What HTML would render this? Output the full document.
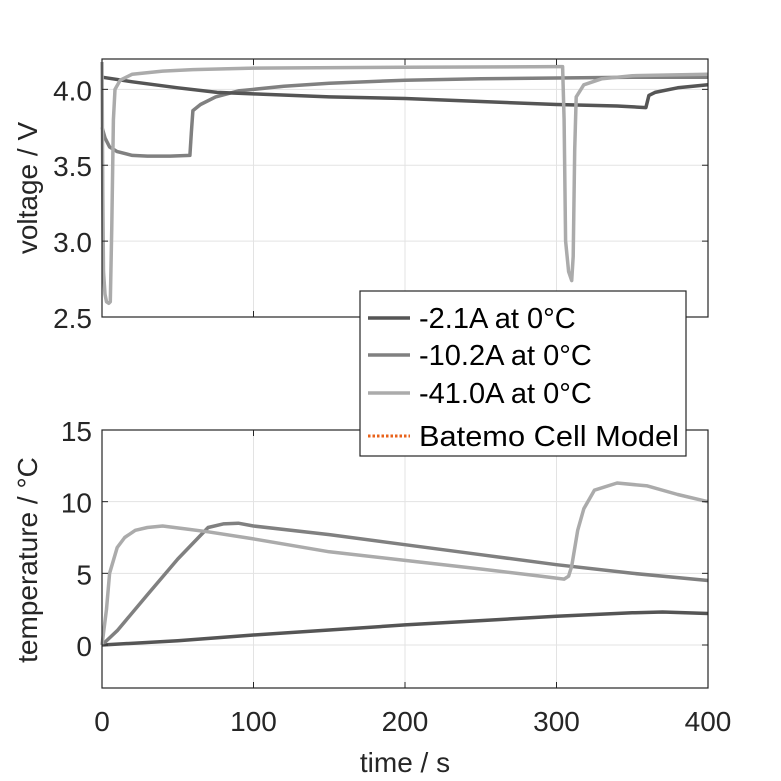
<!DOCTYPE html>
<html><head><meta charset="utf-8"><style>
html,body{margin:0;padding:0;background:#fff;}
svg{display:block;font-family:"Liberation Sans",Arial,sans-serif;}
</style></head><body>
<svg id="chart" width="781" height="781" viewBox="0 0 781 781" xmlns="http://www.w3.org/2000/svg"></svg>
<script>
// ---- data ----
const timeTicks=[0,100,200,300,400];
const voltTicks=[2.5,3.0,3.5,4.0];
const voltTickLabels=["2.5","3.0","3.5","4.0"];
const tempTicks=[0,5,10,15];
const tempTickLabels=["0","5","10","15"];
const seriesNames=["-2.1A at 0°C","-10.2A at 0°C","-41.0A at 0°C"];
// voltage series [t, V]
const v21t=[0,20,50,76,100,150,200,250,300,340,359,361,365,380,400];
const v21v=[4.08,4.05,4.01,3.98,3.97,3.95,3.94,3.92,3.90,3.89,3.88,3.96,3.98,4.01,4.03];
const v102t=[0,2,5,10,20,30,45,58,59,60,65,75,90,120,150,200,250,300,350,400];
const v102v=[3.75,3.68,3.62,3.59,3.565,3.56,3.56,3.565,3.72,3.86,3.90,3.95,3.99,4.02,4.04,4.06,4.07,4.075,4.08,4.08];
const v410t=[0,0.5,1,2,3,4.5,5.5,6.5,7.5,8.6,12,20,40,60,100,200,300,304,305,306,308,310,311,312,313,318,330,350,400];
const v410v=[4.18,3.3,2.8,2.65,2.6,2.59,2.6,3.1,3.8,4.0,4.06,4.1,4.12,4.13,4.14,4.145,4.15,4.15,3.8,3.0,2.8,2.74,2.9,3.6,3.95,4.03,4.07,4.09,4.1];
// temperature series [t, °C]
const t21t=[0,50,100,150,200,250,300,350,370,400];
const t21v=[0,0.3,0.7,1.05,1.4,1.7,2.0,2.25,2.3,2.2];
const t102t=[0,10,30,50,70,80,90,100,150,200,250,300,350,400];
const t102v=[0,1.0,3.5,6.0,8.2,8.45,8.5,8.3,7.7,7.0,6.3,5.6,5.0,4.5];
const t410t=[0,3,5,10,15,22,30,40,55,70,100,150,200,250,290,305,308,310,314,318,325,340,360,380,400];
const t410v=[0,2.5,5,6.8,7.5,8.0,8.2,8.3,8.1,7.9,7.4,6.5,5.9,5.3,4.8,4.6,4.8,5.5,8.0,9.5,10.8,11.3,11.1,10.5,10.0];

// ---- layout ----
const svg=document.getElementById('chart');
const NS='http://www.w3.org/2000/svg';
const X0=102,X1=708;
const xS=t=>X0+(t-0)/(400-0)*(X1-X0);
const vTop=59,vBot=317,vMin=2.5,vMax=4.2;
const yV=v=>vBot-(v-vMin)/(vMax-vMin)*(vBot-vTop);
const tTop=430,tBot=688,tMin=-3,tMax=15;
const yT=v=>tBot-(v-tMin)/(tMax-tMin)*(tBot-tTop);
const colors=["#555555","#808080","#ababab"];
const FS=28;

function el(tag,attrs,parent){const e=document.createElementNS(NS,tag);for(const k in attrs)e.setAttribute(k,attrs[k]);(parent||svg).appendChild(e);return e;}

function axes(name,top,bot,yTicks,yFn){
  const g=el('g',{});
  
  
  for(const t of timeTicks){const x=xS(t);
    const gl=el('line',{x1:x,x2:x,y1:top,y2:bot,stroke:'#e3e3e3','stroke-width':1},g);
    }
  for(const v of yTicks){const y=yFn(v);
    const gl=el('line',{x1:X0,x2:X1,y1:y,y2:y,stroke:'#e3e3e3','stroke-width':1},g);
    }
  return g;
}
function frame(g,top,bot,yTicks,yLabels,yFn,showX){
  const r=el('rect',{x:X0,y:top,width:X1-X0,height:bot-top,fill:'none',stroke:'#262626','stroke-width':1.2},g);
  
  yTicks.forEach((v,i)=>{const y=yFn(v);
    el('line',{x1:X0,x2:X0+6,y1:y,y2:y,stroke:'#262626'},g);
    el('line',{x1:X1-6,x2:X1,y1:y,y2:y,stroke:'#262626'},g);
    const tx=el('text',{x:X0-10,y:y+11,'text-anchor':'end','font-size':FS,fill:'#262626'},g);
    tx.textContent=yLabels[i];
    });
  timeTicks.forEach(t=>{const x=xS(t);
    el('line',{x1:x,x2:x,y1:bot,y2:bot-6,stroke:'#262626'},g);
    el('line',{x1:x,x2:x,y1:top,y2:top+6,stroke:'#262626'},g);
    if(showX){const tx=el('text',{x:x,y:bot+43,'text-anchor':'middle','font-size':FS,fill:'#262626'},g);
      tx.textContent=String(t);
      }});
}
function line(g,ts,vs,yFn,color,name){
  const d=ts.map((t,i)=>(i?'L':'M')+xS(t).toFixed(1)+','+yFn(vs[i]).toFixed(1)).join('');
  const p=el('path',{d:d,fill:'none',stroke:color,'stroke-width':3.5,'stroke-linejoin':'round'},g);
  
  
}
// voltage
const gv=axes('voltage-axes',vTop,vBot,voltTicks,yV);
line(gv,v102t,v102v,yV,colors[1],'voltage-10-2a-line');
line(gv,v21t,v21v,yV,colors[0],'voltage-2-1a-line');
line(gv,v410t,v410v,yV,colors[2],'voltage-41-0a-line');
frame(gv,vTop,vBot,voltTicks,voltTickLabels,yV,false);
// temperature
const gt=axes('temperature-axes',tTop,tBot,tempTicks,yT);
line(gt,t21t,t21v,yT,colors[0],'temperature-2-1a-line');
line(gt,t102t,t102v,yT,colors[1],'temperature-10-2a-line');
line(gt,t410t,t410v,yT,colors[2],'temperature-41-0a-line');
frame(gt,tTop,tBot,tempTicks,tempTickLabels,yT,true);
// axis titles
let a=el('text',{x:0,y:0,transform:'translate(37,188) rotate(-90)','text-anchor':'middle','font-size':FS,fill:'#262626'});
a.textContent='voltage / V';
a=el('text',{x:0,y:0,transform:'translate(37,560) rotate(-90)','text-anchor':'middle','font-size':FS,fill:'#262626'});
a.textContent='temperature / °C';
a=el('text',{x:405,y:772,'text-anchor':'middle','font-size':FS,fill:'#262626'});
a.textContent='time / s';
// legend
const lg=el('g',{});


el('rect',{x:360,y:291,width:326,height:165,fill:'#fff',stroke:'#262626','stroke-width':1.2},lg);
const ly=[318,355,393];
seriesNames.forEach((n,i)=>{
  const e=el('g',{},lg);
  
  
  el('line',{x1:368,x2:410,y1:ly[i],y2:ly[i],stroke:colors[i],'stroke-width':3.5},e);
  const t=el('text',{x:419,y:ly[i]+10,'font-size':29,fill:'#000'},e);t.textContent=n;
});
const e4=el('g',{},lg);


el('line',{x1:368,x2:410,y1:436,y2:436,stroke:'#e8621a','stroke-width':3,'stroke-dasharray':'2.5,2'},e4);
const t4=el('text',{x:419,y:446,'font-size':29,fill:'#000',textLength:260,lengthAdjust:'spacingAndGlyphs'},e4);t4.textContent='Batemo Cell Model';
</script>
</body></html>
